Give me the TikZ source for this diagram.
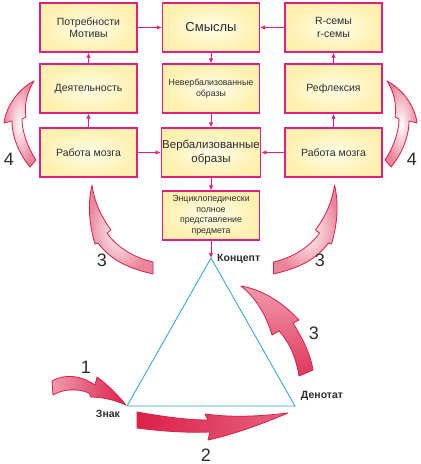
\documentclass[tikz,border=0pt]{standalone}
\usepackage{fontspec}
\setmainfont{Liberation Sans}
\usetikzlibrary{arrows.meta}
\definecolor{boxpink}{RGB}{226,30,128}
\definecolor{boxin}{RGB}{255,253,232}
\definecolor{boxout}{RGB}{255,240,175}
\definecolor{txt}{RGB}{45,45,45}
\definecolor{arrred}{RGB}{220,32,72}
\definecolor{triblue}{RGB}{40,160,220}
\tikzset{
  box/.style={draw=boxpink, line width=1.4pt, shade, shading=radial,
    inner color=boxin, outer color=boxout, minimum width=97pt,
    minimum height=49pt, align=center, text=txt, inner sep=1pt},
  conn/.style={draw=boxpink, line width=0.8pt, -{Latex[length=5pt,width=4.5pt]}},
  fat/.style={draw=arrred, line width=0.8pt, line join=round},
  num/.style={text=txt, font=\fontsize{18}{20}\selectfont, inner sep=0pt},
  lbl/.style={text=txt, font=\fontsize{10.5}{12}\selectfont\bfseries, inner sep=0pt},
  fA/.style={font=\fontsize{10.5}{12.5}\selectfont},
  fS/.style={font=\fontsize{8.8}{11}\selectfont},
}
\begin{document}
\begin{tikzpicture}[x=1pt,y=-1pt]
\useasboundingbox (0,0) rectangle (421,464);
\fill[white] (0,0) rectangle (421,464);

% boxes
\node[box,fA] (l1) at (88.5,27.5) {Потребности\\Мотивы};
\node[box,font=\fontsize{13}{15}\selectfont] (m1) at (211,27.5) {Смыслы};
\node[box,fA] (r1) at (333.5,27.5) {R-семы\\r-семы};
\node[box,fA] (l2) at (88.5,88.5) {Деятельность};
\node[box,fS] (m2) at (211,88.5) {Невербализованные\\образы};
\node[box,fA] (r2) at (333.5,88.5) {Рефлексия};
\node[box,fA] (l3) at (88.5,152.5) {Работа мозга};
\node[box,font=\fontsize{11.5}{13.5}\selectfont] (m3) at (211,152.5) {Вербализованные\\образы};
\node[box,fA] (r3) at (333.5,152.5) {Работа мозга};
\node[box,fS,font=\fontsize{8.8}{10.6}\selectfont] (m4) at (211,215.5) {Энциклопедически\\полное\\представление\\предмета};

% triangle
\coordinate (K) at (211,258);
\coordinate (Z) at (127,406);
\coordinate (D) at (295,406);
\draw[triblue, line width=0.8pt, line join=miter] (K) -- (Z) -- (D) -- cycle;

% connectors
\draw[conn] (l1) -- (m1);
\draw[conn] (r1) -- (m1);
\draw[conn] (l2) -- (l1);
\draw[conn] (l3) -- (l2);
\draw[conn] (r2) -- (r1);
\draw[conn] (r3) -- (r2);
\draw[conn] (l3) -- (m3);
\draw[conn] (r3) -- (m3);
\draw[conn] (m1) -- (m2);
\draw[conn] (m2) -- (m3);
\draw[conn] (m3) -- (m4);
\draw[conn] (m4) -- (K);

% labels
\node[lbl, anchor=west] (konc) at (217,259) {Концепт};
\node[lbl] (znak) at (108,414) {Знак};
\node[lbl] (den) at (322,396) {Денотат};

% fat arrows 4
\path[fat, shade, shading=radial, inner color=white, outer color=arrred!55]
  (30,167) -- (36,160)
  .. controls (28,148) and (22,132) .. (22,119)
  -- (26,117)
  .. controls (24,105) and (27,92) .. (34,81)
  .. controls (20,88) and (6,105) .. (4,123)
  -- (12,121)
  .. controls (12,138) and (20,155) .. (30,167) -- cycle;
\path[fat, shade, shading=radial, inner color=white, outer color=arrred!55]
  (391,167) -- (385,160)
  .. controls (393,148) and (399,132) .. (399,119)
  -- (395,117)
  .. controls (397,105) and (394,92) .. (387,81)
  .. controls (401,88) and (415,105) .. (417,123)
  -- (409,121)
  .. controls (409,138) and (401,155) .. (391,167) -- cycle;

% fat arrows 3 (upper)
\path[fat, shade, shading=radial, inner color=white, outer color=arrred!55]
  (92,185) .. controls (87,205) and (90,228) .. (95,244)
  -- (98,243)
  .. controls (112,262) and (132,269) .. (153,274)
  -- (153,262)
  .. controls (132,257) and (116,246) .. (107,233)
  -- (111,230)
  .. controls (100,215) and (94,200) .. (92,185) -- cycle;
\path[fat, shade, shading=radial, inner color=white, outer color=arrred!55]
  (334.5,185) .. controls (339.5,205) and (336.5,228) .. (331.5,244)
  -- (328.5,243)
  .. controls (314.5,262) and (294.5,269) .. (273.5,274)
  -- (273.5,262)
  .. controls (294.5,257) and (310.5,246) .. (319.5,233)
  -- (315.5,230)
  .. controls (326.5,215) and (332.5,200) .. (334.5,185) -- cycle;

% fat arrow 3 (lower)
\path[fat, shade, top color=arrred!45, middle color=white, bottom color=arrred!90]
  (241,286) .. controls (265,290) and (285,305) .. (299,320)
  -- (293,323)
  .. controls (302,338) and (310,352) .. (313,370)
  -- (299,376)
  .. controls (296,358) and (290,343) .. (279,331)
  -- (272,335)
  .. controls (266,315) and (256,298) .. (241,286) -- cycle;

% fat arrow 1
\path[fat, shade, left color=arrred!45, middle color=white, right color=arrred]
  (52,381) .. controls (66,373) and (82,376) .. (95,385)
  -- (97,377)
  .. controls (108,385) and (118,395) .. (126,405)
  .. controls (115,400) and (102,397) .. (91,397)
  -- (89,393)
  .. controls (77,388) and (63,389) .. (53,395)
  -- cycle;

% fat arrow 2
\path[fat, shade, left color=arrred, middle color=white, right color=arrred!70]
  (137,412) .. controls (160,416) and (185,420) .. (208,420)
  -- (205,414)
  .. controls (235,418) and (262,416) .. (288,413)
  .. controls (262,424) and (235,434) .. (208,440)
  -- (210,432)
  .. controls (185,433) and (160,431) .. (137,428)
  -- cycle;

% numbers
\node[num] (n4l) at (9,159) {4};
\node[num] (n4r) at (412,159) {4};
\node[num] (n3l) at (102,260) {3};
\node[num] (n3r) at (320,260) {3};
\node[num] (n3d) at (314,333) {3};
\node[num] (n1) at (86,367) {1};
\node[num] (n2) at (206,455) {2};
\end{tikzpicture}
\end{document}
